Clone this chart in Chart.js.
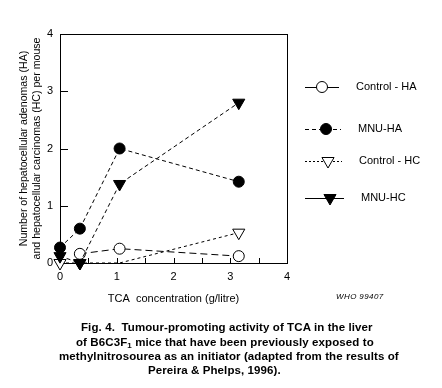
<!DOCTYPE html>
<html>
<head>
<meta charset="utf-8">
<script src="https://cdn.jsdelivr.net/npm/chart.js@4/dist/chart.umd.min.js"></script>
<style>
  html, body { margin: 0; padding: 0; background: #fff; }
  #wrap { position: relative; width: 442px; height: 388px; overflow: hidden; font-family: "Liberation Sans", Arial, sans-serif; }
  #c { position: absolute; left: 0; top: 0; }
  .cap { position: absolute; font-weight: bold; font-size: 11.5px; letter-spacing: 0.1px; line-height: 13px; white-space: nowrap; color: #000; }
  .who { position: absolute; font-style: italic; font-size: 8px; left: 336px; top: 292px; letter-spacing: 0.4px; }
  sub { font-size: 8px; vertical-align: -2px; line-height: 0; }
</style>
</head>
<body>
<div id="wrap">
  <canvas id="c" width="442" height="310"></canvas>
  <div class="who">WHO 99407</div>
  <div class="cap" style="left:81px;top:321px">Fig. 4.&nbsp; Tumour-promoting activity of TCA in the liver</div>
  <div class="cap" style="left:76px;top:336px">of B6C3F<sub>1</sub> mice that have been previously exposed to</div>
  <div class="cap" style="left:59px;top:350px">methylnitrosourea as an initiator (adapted from the results of</div>
  <div class="cap" style="left:148px;top:364px">Pereira &amp; Phelps, 1996).</div>
</div>
<script>
// ---- data ----
const seriesNames = ["Control - HA", "MNU-HA", "Control - HC", "MNU-HC"];
const controlHA_x = [0.35, 1.05, 3.15];
const controlHA_y = [0.16, 0.25, 0.12];
const mnuHA_x = [0, 0.35, 1.05, 3.15];
const mnuHA_y = [0.27, 0.6, 2.0, 1.42];
const controlHC_x = [0, 0.35, 1.05, 3.15];
const controlHC_y = [0, 0, 0, 0.53];
const mnuHC_x = [0, 0.35, 1.05, 3.15];
const mnuHC_y = [0.12, 0, 1.38, 2.8];
const xTickLabels = ["0", "1", "2", "3", "4"];
const yTickLabels = ["0", "1", "2", "3", "4"];

const pts = (xs, ys) => xs.map((x, i) => ({x: x, y: ys[i]}));
const FONT = "'Liberation Sans', Arial, sans-serif";

const datasets = [
  { label: seriesNames[3], data: pts(mnuHC_x, mnuHC_y), borderColor: "#000", backgroundColor: "#000",
    borderWidth: 1, borderDash: [4, 3], pointStyle: "triangle", rotation: 180, pointRadius: 7,
    pointBorderWidth: 1, pointBackgroundColor: "#000", order: 1 },
  { label: seriesNames[1], data: pts(mnuHA_x, mnuHA_y), borderColor: "#000", backgroundColor: "#000",
    borderWidth: 1, borderDash: [4, 3], pointStyle: "circle", pointRadius: 5.5,
    pointBackgroundColor: "#000", order: 2 },
  { label: seriesNames[0], data: pts(controlHA_x, controlHA_y), borderColor: "#000", backgroundColor: "#fff",
    borderWidth: 1, borderDash: [7, 4], pointStyle: "circle", pointRadius: 5.5,
    pointBackgroundColor: "#fff", order: 3 },
  { label: seriesNames[2], data: pts(controlHC_x, controlHC_y), borderColor: "#000", backgroundColor: "#fff",
    borderWidth: 1, borderDash: [3, 3], pointStyle: "triangle", rotation: 180, pointRadius: [7, 7, 0, 7],
    pointBackgroundColor: "#fff", order: 4 }
];

const legendItems = [
  { name: seriesNames[0], y: 87, x0: 305, x1: 339, mx: 322, tx: 356, style: "circle", fill: false, dash: [] },
  { name: seriesNames[1], y: 129, x0: 305, x1: 341, mx: 326, tx: 358, style: "circle", fill: true, dash: [4, 3] },
  { name: seriesNames[2], y: 161, x0: 305, x1: 342, mx: 328, tx: 359, style: "tri", fill: false, dash: [2, 2] },
  { name: seriesNames[3], y: 198, x0: 305, x1: 344, mx: 330, tx: 361, style: "tri", fill: true, dash: [] }
];

function drawMarker(ctx, style, fill, x, y) {
  ctx.save();
  ctx.setLineDash([]);
  ctx.lineWidth = 1;
  ctx.strokeStyle = "#000";
  ctx.fillStyle = fill ? "#000" : "#fff";
  ctx.beginPath();
  if (style === "circle") {
    ctx.arc(x, y, 5.5, 0, Math.PI * 2);
  } else {
    const r = 7;
    ctx.moveTo(x, y + r);
    ctx.lineTo(x - r * Math.sqrt(3) / 2, y - r / 2);
    ctx.lineTo(x + r * Math.sqrt(3) / 2, y - r / 2);
    ctx.closePath();
  }
  ctx.fill();
  ctx.stroke();
  ctx.restore();
}

const framePlugin = {
  id: "frame",
  beforeDatasetsDraw(chart) {
    const {ctx, chartArea: a, scales} = chart;
    ctx.save();
    ctx.strokeStyle = "#000";
    ctx.lineWidth = 1;
    ctx.setLineDash([]);
    ctx.strokeRect(Math.round(a.left) + 0.5, Math.round(a.top) + 0.5,
                   Math.round(a.right - a.left), Math.round(a.bottom - a.top));
    ctx.beginPath();
    for (let v = 0.5; v < 4; v += 0.5) {
      const px = Math.round(scales.x.getPixelForValue(v)) + 0.5;
      ctx.moveTo(px, a.bottom);
      ctx.lineTo(px, a.bottom - 5);
    }
    for (let v = 1; v < 4; v += 1) {
      const py = Math.round(scales.y.getPixelForValue(v)) + 0.5;
      ctx.moveTo(a.left, py);
      ctx.lineTo(a.left + 8, py);
    }
    ctx.stroke();
    ctx.restore();
  },
  afterDraw(chart) {
    const ctx = chart.ctx;
    ctx.save();
    legendItems.forEach(it => {
      ctx.strokeStyle = "#000";
      ctx.lineWidth = 1;
      ctx.setLineDash(it.dash);
      ctx.beginPath();
      ctx.moveTo(it.x0, it.y + 0.5);
      ctx.lineTo(it.x1, it.y + 0.5);
      ctx.stroke();
      drawMarker(ctx, it.style, it.fill, it.mx, it.y);
      ctx.fillStyle = "#000";
      ctx.font = "11px " + FONT;
      ctx.textBaseline = "middle";
      ctx.textAlign = "left";
      ctx.fillText(it.name, it.tx, it.y);
    });
    ctx.restore();
  }
};

new Chart(document.getElementById("c"), {
  type: "scatter",
  data: { datasets: datasets },
  plugins: [framePlugin],
  options: {
    responsive: false,
    animation: false,
    devicePixelRatio: 1,
    showLine: true,
    clip: false,
    layout: { padding: { left: 0, top: 34, right: 155, bottom: 0 } },
    plugins: { legend: { display: false }, tooltip: { enabled: false } },
    datasets: { scatter: { showLine: true, clip: false } },
    scales: {
      x: {
        type: "linear", min: 0, max: 4,
        afterFit: s => { s.height = 47; },
        border: { display: false },
        grid: { display: false, drawTicks: false },
        ticks: {
          stepSize: 0.5, autoSkip: false, maxRotation: 0, padding: 7, color: "#000",
          font: { family: FONT, size: 11 },
          callback: v => (Number.isInteger(v) ? xTickLabels[v] : "")
        },
        title: { display: true, text: "TCA  concentration (g/litre)", color: "#000",
                 font: { family: FONT, size: 11 }, padding: { top: 0, bottom: 4 } }
      },
      y: {
        type: "linear", min: 0, max: 4,
        afterFit: s => { s.width = 60; },
        border: { display: false },
        grid: { display: false, drawTicks: false },
        ticks: {
          stepSize: 1, padding: 7, color: "#000",
          font: { family: FONT, size: 11 },
          callback: v => yTickLabels[v]
        },
        title: { display: true,
                 text: ["Number of hepatocellular adenomas (HA)", "and hepatocellular carcinomas (HC) per mouse"],
                 color: "#000", font: { family: FONT, size: 10.6, lineHeight: 1.25 }, padding: { top: 17.5, bottom: 0 } }
      }
    }
  }
});
</script>
</body>
</html>
